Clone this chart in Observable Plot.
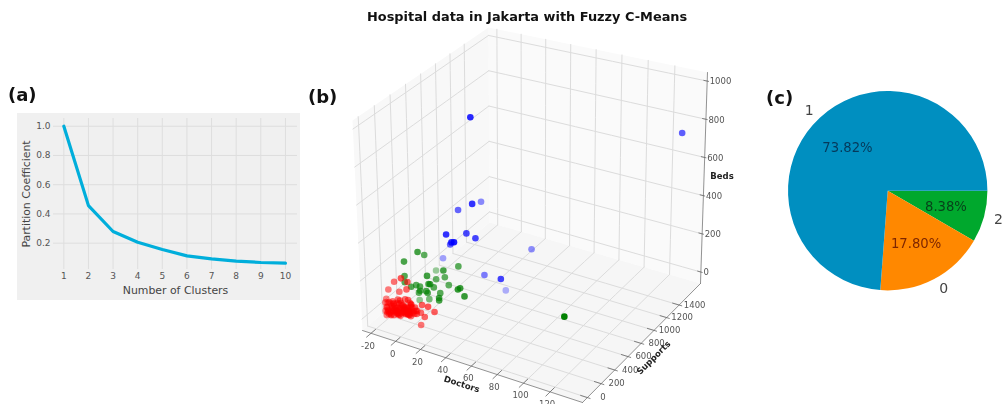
<!DOCTYPE html>
<html>
<head>
<meta charset="utf-8">
<script src="https://cdn.jsdelivr.net/npm/d3@7"></script>
<script src="https://cdn.jsdelivr.net/npm/@observablehq/plot@0.6"></script>
<style>
  html, body { margin: 0; padding: 0; background: #fff; overflow: hidden; }
  #page { position: relative; width: 1003px; height: 404px; overflow: hidden; font-family: "DejaVu Sans", sans-serif; filter: blur(0.4px); }
  #page svg { position: absolute; overflow: hidden; }
  .lab { position: absolute; font-weight: bold; color: #111; white-space: nowrap; line-height: 1; }
</style>
</head>
<body>
<div id="page"></div>
<script>
// Panel (a): elbow curve
const clusters = [1, 2, 3, 4, 5, 6, 7, 8, 9, 10];
const partitionCoefficient = [1.0, 0.457, 0.28, 0.207, 0.157, 0.113, 0.093, 0.077, 0.068, 0.063];
const coefTicks = [0.2, 0.4, 0.6, 0.8, 1.0];

// Panel (b): hospitals
const blueDoctors  = [29, 138, 20, 42, 19, 33, 37, 44, 21, 45, 40, 0, 57, 39, 66, 39];
const blueSupports = [520, 1500, 800, 300, 500, 100, 300, 300, 350, 0, 50, 600, 850, 500, 250, 800];
const blueBeds     = [980, 790, 434, 616, 481, 504, 454, 442, 350, 518, 492, 158, 236, 178, 290, 0];

const greenDoctors  = [127, 13, 9, 5, 5, 33, 0, 30, 25, 23, 18, 24, 22, 28, 47, 47, 52, 27, 32, 32, 12, 22, 20, 10, 11, 14, 14, 13, -2, 5, 24];
const greenSupports = [0, 50, 200, 0, 0, 250, 500, 100, 200, 0, 200, 0, 100, 200, 0, 30, 0, 100, 0, 0, 200, 0, 50, 0, 50, 50, 50, 50, 300, 0, 20];
const greenBeds     = [304, 391, 320, 342, 267, 291, 125, 312, 235, 303, 211, 263, 209, 200, 280, 277, 255, 189, 207, 194, 95, 222, 192, 221, 215, 214, 192, 180, 29, 235, 255];

const redDoctors  = [2, -10, 4, -15, -6, 3, -17, 12, 25, 23, 17, 14, 11, 17,
  -14, -14, -14, -14, -14, -14, -11, -11, -11, -11, -11, -11, -8, -8, -8, -8, -8, -8,
  -5, -5, -5, -5, -5, -5, -2, -2, -2, -2, -2, -2, 1, 1, 1, 1, 1, 1, 4, 4, 4, 4, 4, 4,
  7, 7, 7, 7, 7, 10, 10, 10, 10,
  -12, -9, -6, -3, 0, 3, 6, -12, -9, -6, -3, 0, 3, 6, -9, -6, -3, 0, 3, 6,
  -13, -10, -7, -4, -1, 2, 5, 8, -12, -9, -6, -3, 0, 3, 6, -7, -4, -1, 2, 5];
const redSupports = [0, 100, 50, 100, 100, 50, 100, 80, 50, 0, 50, 50, 50, 20,
  50, 60, 40, 50, 70, 40, 60, 50, 30, 70, 60, 40, 50, 80, 60, 30, 50, 40,
  60, 70, 50, 30, 50, 60, 40, 50, 70, 30, 50, 40, 60, 50, 80, 50, 30, 60, 50, 40, 60, 50, 70, 50,
  30, 60, 20, 50, 40, 60, 30, 50, 40,
  50, 30, 60, 40, 70, 50, 30, 40, 60, 50, 30, 40, 60, 50, 70, 30, 50, 60, 40, 30,
  60, 40, 50, 30, 70, 50, 40, 60, 30, 50, 70, 40, 60, 30, 50, 40, 60, 50, 30, 70];
const redBeds     = [249, 175, 217, 124, 130, 177, 71, 0, 104, 143, 62, 78, 80, 134,
  8, 20, 34, 50, 66, 78, 14, 26, 40, 56, 72, 86, 20, 32, 46, 64, 82, 96,
  26, 36, 50, 70, 90, 104, 32, 42, 55, 75, 95, 112, 40, 48, 58, 78, 98, 118, 46, 54, 62, 82, 102, 124,
  52, 60, 70, 90, 110, 60, 70, 80, 100,
  18, 24, 30, 36, 44, 50, 56, 44, 38, 44, 48, 55, 60, 68, 70, 62, 65, 68, 72, 80,
  30, 34, 40, 44, 50, 56, 66, 70, 60, 60, 58, 62, 64, 88, 92, 75, 85, 85, 90, 94];

const doctorTicks = [-20, 0, 20, 40, 60, 80, 100, 120];
const supportTicks = [0, 200, 400, 600, 800, 1000, 1200, 1400];
const bedTicks = [0, 200, 400, 600, 800, 1000];
const doctorRange = [-27, 144];
const supportRange = [-70, 1750];
const bedRange = [-60, 1045];

// Panel (c): cluster shares
const pieLabels = ["2", "0", "1"];
const pieShares = [8.38, 17.80, 73.82];
const pieColors = ["#00a82d", "#ff8800", "#008fc0"];
const piePctColors = ["#07421a", "#7d2600", "#05395a"];

const page = document.getElementById("page");
function mount(svg, left, top) {
  svg.style.left = left + "px";
  svg.style.top = top + "px";
  page.appendChild(svg);
}
function label(text, left, top, size) {
  const el = document.createElement("div");
  el.className = "lab";
  el.textContent = text;
  el.style.cssText = `left:${left}px;top:${top}px;font-size:${size}px`;
  page.appendChild(el);
}

/* ---------- (a) ---------- */
const elbow = clusters.map((k, i) => ({k, c: partitionCoefficient[i]}));
mount(Plot.plot({
  width: 283, height: 187,
  marginLeft: 36, marginRight: 3, marginTop: 5, marginBottom: 31,
  style: {background: "#f0f0f0", fontFamily: "DejaVu Sans", color: "#555"},
  x: {domain: [0.58, 10.49], ticks: clusters, tickSize: 0, tickPadding: 3, tickFormat: d => d, label: null},
  y: {domain: [0.02, 1.053], ticks: coefTicks, tickSize: 0, tickPadding: 3, tickFormat: d3.format(".1f"), label: null},
  marks: [
    Plot.gridX(clusters, {stroke: "#dedede", strokeOpacity: 1}),
    Plot.gridY(coefTicks, {stroke: "#dedede", strokeOpacity: 1}),
    Plot.axisX(clusters, {fontSize: 9, fill: "#555", tickSize: 0, tickPadding: 3, tickFormat: d => d, label: null}),
    Plot.axisY(coefTicks, {fontSize: 9, fill: "#555", tickSize: 0, tickPadding: 3, tickFormat: d3.format(".1f"), label: null}),
    Plot.line(elbow, {x: "k", y: "c", stroke: "#00aedb", strokeWidth: 3.2}),
    Plot.text(["Number of Clusters"], {frameAnchor: "bottom", dy: 24, dx: 0, fontSize: 10.9, fill: "#444"}),
    Plot.text(["Partition Coefficient"], {frameAnchor: "left", textAnchor: "middle", rotate: -90, dx: -27.3, fontSize: 10.9, fill: "#444"})
  ]
}), 17, 113);

/* ---------- (b) ---------- */
const floorQuad = [[362, 330], [582, 402], [700, 283], [489, 222]];
const topQuad = [[352, 120], [583, 177], [707, 72], [488, 27]];
function homography([[x0, y0], [x1, y1], [x2, y2], [x3, y3]]) {
  const dx1 = x1 - x2, dx2 = x3 - x2, sx = x0 - x1 + x2 - x3;
  const dy1 = y1 - y2, dy2 = y3 - y2, sy = y0 - y1 + y2 - y3;
  const den = dx1 * dy2 - dx2 * dy1;
  const g = (sx * dy2 - dx2 * sy) / den, h = (dx1 * sy - sx * dy1) / den;
  const a = x1 - x0 + g * x1, b = x3 - x0 + h * x3;
  const d = y1 - y0 + g * y1, e = y3 - y0 + h * y3;
  return (u, v) => {
    const q = g * u + h * v + 1;
    return [(a * u + b * v + x0) / q, (d * u + e * v + y0) / q];
  };
}
const hFloor = homography(floorQuad), hTop = homography(topQuad);
const uOf = d => (d - doctorRange[0]) / (doctorRange[1] - doctorRange[0]);
const vOf = s => (s - supportRange[0]) / (supportRange[1] - supportRange[0]);
const wOf = z => (z - bedRange[0]) / (bedRange[1] - bedRange[0]);
function project(d, s, z) {
  const u = uOf(d), v = vOf(s), w = wOf(z);
  const a = hFloor(u, v), b = hTop(u, v);
  return [a[0] + (b[0] - a[0]) * w, a[1] + (b[1] - a[1]) * w];
}
const [d0, d1] = doctorRange, [s0, s1] = supportRange, [z0, z1] = bedRange;
const seg = (key, a, b, n = 12) => d3.range(n + 1).map(i => {
  const t = i / n;
  const p = project(a[0] + (b[0] - a[0]) * t, a[1] + (b[1] - a[1]) * t, a[2] + (b[2] - a[2]) * t);
  return {key, px: p[0], py: p[1]};
});
const panes = [
  ...seg("left", [d0, s0, z0], [d0, s1, z0], 1), ...seg("left", [d0, s1, z1], [d0, s0, z1], 1),
  ...seg("back", [d0, s1, z0], [d1, s1, z0], 1), ...seg("back", [d1, s1, z1], [d0, s1, z1], 1),
  ...seg("floor", [d0, s0, z0], [d1, s0, z0], 1), ...seg("floor", [d1, s1, z0], [d0, s1, z0], 1)
];
const paneFill = {left: "#f8f8f8", back: "#fafafa", floor: "#f6f6f6"};
const gridLines = [
  ...doctorTicks.flatMap(t => [
    ...seg(`fd${t}`, [t, s0, z0], [t, s1, z0]),
    ...seg(`bd${t}`, [t, s1, z0], [t, s1, z1])
  ]),
  ...supportTicks.flatMap(t => [
    ...seg(`fs${t}`, [d0, t, z0], [d1, t, z0]),
    ...seg(`ls${t}`, [d0, t, z0], [d0, t, z1])
  ]),
  ...bedTicks.flatMap(t => [
    ...seg(`lz${t}`, [d0, s0, t], [d0, s1, t]),
    ...seg(`bz${t}`, [d0, s1, t], [d1, s1, t])
  ])
];
const axisLines = [
  ...seg("ax", [d0, s0, z0], [d1, s0, z0], 1),
  ...seg("ay", [d1, s0, z0], [d1, s1, z0], 1),
  ...seg("az", [d1, s1, z0], [d1, s1, z1], 1)
];
const tickMarks = [
  ...doctorTicks.flatMap(t => seg(`tx${t}`, [t, s0 - 60, z0], [t, s0 + 60, z0], 1)),
  ...supportTicks.flatMap(t => seg(`ty${t}`, [d1 - 5, t, z0], [d1 + 2, t, z0], 1)),
  ...bedTicks.flatMap(t => seg(`tz${t}`, [d1 - 2.5, s1, t], [d1 + 1, s1, t], 1))
];
const ptAt = (d, s, z, text) => { const p = project(d, s, z); return {text, px: p[0], py: p[1]}; };
const doctorLabels = doctorTicks.map(t => ptAt(t, s0, z0, String(t)));
const supportLabels = supportTicks.map(t => ptAt(d1, t, z0, String(t)));
const bedLabels = bedTicks.map(t => ptAt(d1, s1, t, String(t)));

function cluster(color, ds, ss, zs) {
  return ds.map((d, i) => {
    const p = project(d, ss[i], zs[i]);
    return {color, px: p[0], py: p[1], near: 0.43 * uOf(d) - 0.75 * vOf(ss[i]) + 0.5 * wOf(zs[i])};
  });
}
const hospitals = [
  ...cluster("#0000ff", blueDoctors, blueSupports, blueBeds),
  ...cluster("#008000", greenDoctors, greenSupports, greenBeds),
  ...cluster("#ff0000", redDoctors, redSupports, redBeds)
];
const alphaOf = d3.scaleLinear(d3.extent(hospitals, d => d.near), [0.3, 1]);
const tickFont = {fontSize: 8.5, fill: "#555"};
const boldFont = {fontSize: 8.5, fontWeight: "bold", fill: "#222"};
const pos = {x: "px", y: "py"};
mount(Plot.plot({
  width: 403, height: 404, margin: 0,
  style: {background: "transparent", fontFamily: "DejaVu Sans"},
  x: {domain: [340, 743], range: [0, 403], axis: null},
  y: {domain: [0, 404], range: [0, 404], axis: null},
  marks: [
    Plot.line(panes, {...pos, z: "key", fill: d => paneFill[d.key], stroke: "none"}),
    Plot.line(gridLines, {...pos, z: "key", stroke: "#dcdcdc", strokeWidth: 1}),
    Plot.line(axisLines, {...pos, z: "key", stroke: "#777", strokeWidth: 0.8}),
    Plot.line(tickMarks, {...pos, z: "key", stroke: "#666", strokeWidth: 0.8}),
    Plot.text(doctorLabels, {...pos, text: "text", dx: -3, dy: 12.5, ...tickFont}),
    Plot.text(supportLabels, {...pos, text: "text", dx: 15.5, dy: 0, ...tickFont}),
    Plot.text(bedLabels, {...pos, text: "text", dx: 2.5, dy: 0.5, textAnchor: "start", ...tickFont}),
    Plot.text([ptAt(58, s0, z0, "Doctors")], {...pos, text: "text", dx: -7, dy: 19, rotate: 18, ...boldFont}),
    Plot.text([ptAt(d1, 840, z0, "Supports")], {...pos, text: "text", dx: 10, dy: 17, rotate: -45, ...boldFont}),
    Plot.text([ptAt(d1, s1, 500, "Beds")], {...pos, text: "text", dx: 18, dy: 0, ...boldFont}),
    Plot.dot(hospitals, {...pos, r: 3.3, fill: "color", fillOpacity: d => alphaOf(d.near), stroke: "none"})
  ]
}), 340, 0);

/* ---------- (c) ---------- */
const slices = d3.pie().sort(null).startAngle(Math.PI / 2).endAngle(Math.PI * 2.5)
  .value(d => d)(pieShares)
  .map((a, i) => {
    const mid = (a.startAngle + a.endAngle) / 2;
    return {...a, name: pieLabels[i], fill: pieColors[i], ink: piePctColors[i],
      pct: pieShares[i].toFixed(2) + "%", cx: Math.sin(mid), cy: Math.cos(mid)};
  });
const wedges = (index, {x, y}) => {
  const r = x(1) - x(0);
  const g = d3.create("svg:g").attr("transform", `translate(${x(0)},${y(0)})`);
  g.selectAll("path").data(slices).join("path")
    .attr("fill", d => d.fill)
    .attr("d", d3.arc().innerRadius(0).outerRadius(r));
  return g.node();
};
mount(Plot.plot({
  width: 233, height: 240, margin: 0,
  style: {background: "transparent", fontFamily: "DejaVu Sans"},
  x: {domain: [-1.1805, 1.1565], axis: null},
  y: {domain: [-1.1966, 1.2106], axis: null},
  marks: [
    wedges,
    Plot.text(slices, {x: d => d.cx * 0.6, y: d => d.cy * 0.6, text: "pct", fill: "ink", fontSize: 13.2}),
    Plot.text(slices.filter(d => d.cx > 0), {x: d => d.cx * 1.1, y: d => d.cy * 1.1, text: "name", textAnchor: "start", fontSize: 14, fill: "#444"}),
    Plot.text(slices.filter(d => d.cx < 0), {x: d => d.cx * 1.1, y: d => d.cy * 1.1, text: "name", textAnchor: "end", fontSize: 14, fill: "#444"})
  ]
}), 770, 70);

label("(a)", 8, 86, 18);
label("(b)", 308, 88, 18);
label("(c)", 766, 89, 18);
label("Hospital data in Jakarta with Fuzzy C-Means", 367, 11, 12.9);
</script>
</body>
</html>
